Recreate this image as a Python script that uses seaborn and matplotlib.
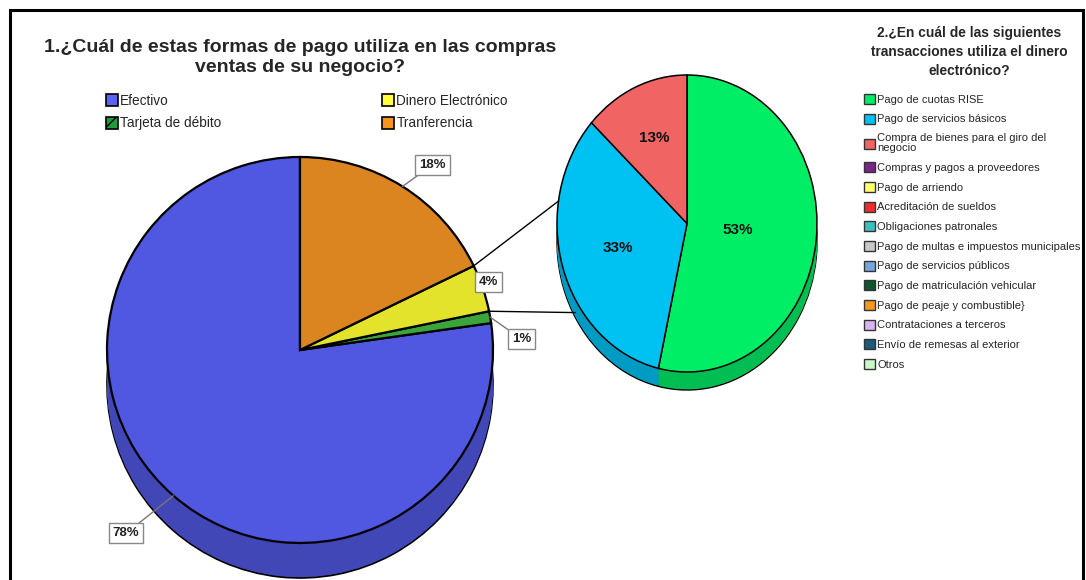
import numpy as np
import matplotlib
matplotlib.use("Agg")
import matplotlib.pyplot as plt
import seaborn as sns
from matplotlib.patches import Patch, Rectangle, ConnectionPatch
from matplotlib.colors import to_rgb

sns.set_theme(style="white")
plt.rcParams['font.family'] = ['Liberation Sans', 'DejaVu Sans']

# ---------------- data ----------------
pay_labels = ["Efectivo", "Tarjeta de débito", "Dinero Electrónico", "Tranferencia"]
pay_values = [78, 1, 4, 18]
pay_colors = ["#5057E0", "#3AA53A", "#E3E32B", "#DB8520"]
pay_legend_colors = ["#5A63F0", "#1E9E3A", "#FFFF40", "#F5951E"]

tx_labels = ["Pago de cuotas RISE", "Pago de servicios básicos",
             "Compra de bienes para el giro del\nnegocio", "Compras y pagos a proveedores",
             "Pago de arriendo", "Acreditación de sueldos", "Obligaciones patronales",
             "Pago de multas e impuestos municipales", "Pago de servicios públicos",
             "Pago de matriculación vehicular", "Pago de peaje y combustible}",
             "Contrataciones a terceros", "Envío de remesas al exterior", "Otros"]
tx_colors = ["#00EE66", "#00C2F2", "#F06464", "#7B2585", "#FFFF70", "#EE2E2E", "#3DBFC0",
             "#C8C8C8", "#76A6DC", "#0E5630", "#F39A1E", "#D8B4F0", "#1A5A7A", "#C8F8C8"]
tx_values = [53, 33, 13]          # only the first three categories are non-zero

title1 = "1.¿Cuál de estas formas de pago utiliza en las compras\nventas de su negocio?"
title2 = "2.¿En cuál de las siguientes\ntransacciones utiliza el dinero\nelectrónico?"

W, H = 1086, 580
fig = plt.figure(figsize=(W / 100, H / 100), dpi=100)
fig.patch.set_facecolor("white")


def darken(c, f=0.82):
    r, g, b = to_rgb(c)
    return (r * f, g * f, b * f)


# ---------------- left pie (pixel-unit axes) ----------------
axL = fig.add_axes([0, 0, 1, 1])
cxL, cyL, rL, depthL = 300, H - 350, 193, 35
nlay = 30
for k in range(nlay, 0, -1):
    off = depthL * k / nlay
    axL.pie(pay_values, center=(cxL, cyL - off), radius=rL, startangle=90, counterclock=True,
            colors=[darken(c) for c in pay_colors],
            wedgeprops=dict(linewidth=1.2 if k == nlay else 0, edgecolor="black"),
            frame=False)
wedgesL, _ = axL.pie(pay_values, center=(cxL, cyL), radius=rL, startangle=90, counterclock=True,
                     colors=pay_colors, wedgeprops=dict(linewidth=1.6, edgecolor="black"),
                     frame=False)
axL.set_aspect("auto")
axL.set_xlim(0, W)
axL.set_ylim(0, H)
axL.axis("off")

# labels for left pie (order: Efectivo, Tarjeta, Dinero, Tranferencia)
lab_dist = [1.31, 1.15, 1.04, 1.18]
lab_shift = [-2.5, -7, 1.1, -3.5]
lab_leader = [True, True, False, True]
for w, v, dist, sh, ld in zip(wedgesL, pay_values, lab_dist, lab_shift, lab_leader):
    mid = np.deg2rad((w.theta1 + w.theta2) / 2)
    ang_l = mid + np.deg2rad(sh)
    p_arc = (cxL + rL * np.cos(mid), cyL + rL * np.sin(mid))
    p_lab = (cxL + rL * dist * np.cos(ang_l), cyL + rL * dist * np.sin(ang_l))
    axL.annotate(f"{v}%", xy=p_arc, xytext=p_lab, ha="center", va="center",
                 fontsize=9.5, fontweight="bold", color="#222222",
                 bbox=dict(boxstyle="square,pad=0.3", fc="white", ec="#888888", lw=1),
                 arrowprops=(dict(arrowstyle="-", color="#777777", lw=1, shrinkA=0, shrinkB=0)
                             if ld else None))

# ---------------- right pie (elliptical) ----------------
cxR, cyR, rxR, ryR, depthR = 687, 223.5, 130, 148.5, 18
x0, x1, y0, y1 = 540, 834, 60, 410
axR = fig.add_axes([x0 / W, (H - y1) / H, (x1 - x0) / W, (y1 - y0) / H])
dR = depthR / ryR
for k in range(20, 0, -1):
    off = dR * k / 20
    axR.pie(tx_values, center=(0, -off), radius=1, startangle=90, counterclock=False,
            colors=[darken(c, 0.8) for c in tx_colors[:3]],
            wedgeprops=dict(linewidth=1 if k == 20 else 0, edgecolor="black"), frame=False)
wedgesR, _ = axR.pie(tx_values, radius=1, startangle=90, counterclock=False,
                     colors=tx_colors[:3], wedgeprops=dict(linewidth=1.1, edgecolor="black"),
                     frame=False)
axR.set_aspect("auto")
axR.set_xlim((x0 - cxR) / rxR, (x1 - cxR) / rxR)
axR.set_ylim((cyR - y1) / ryR, (cyR - y0) / ryR)
axR.axis("off")
in_dist = [0.39, 0.56, 0.63]
for w, v, d in zip(wedgesR, tx_values, in_dist):
    mid = np.deg2rad((w.theta1 + w.theta2) / 2)
    axR.text(d * np.cos(mid), d * np.sin(mid), f"{v}%", ha="center", va="center",
             fontsize=11, fontweight="bold", color="#111111")

# ---------------- connector lines ----------------
wy = wedgesL[2]
for th, ptR in [(wy.theta2, (-0.99, 0.15)), (wy.theta1, (-0.86, -0.6))]:
    t = np.deg2rad(th)
    pA = (cxL + rL * np.cos(t), cyL + rL * np.sin(t))
    con = ConnectionPatch(xyA=pA, coordsA=axL.transData, xyB=ptR, coordsB=axR.transData,
                          color="black", lw=1)
    fig.add_artist(con)

# ---------------- titles ----------------
fig.text(300 / W, 1 - 57.5 / H, title1, ha="center", va="center", fontsize=14,
         fontweight="bold", linespacing=1.25)
fig.text(969 / W, 1 - 52 / H, title2, ha="center", va="center", fontsize=9.9,
         fontweight="bold", linespacing=1.42)

# ---------------- legends ----------------
h1 = []
for lab, c in zip(pay_labels, pay_legend_colors):
    if lab == "Tarjeta de débito":
        h1.append(Patch(facecolor=c, edgecolor="black", hatch="//", lw=1.2, label=lab))
    else:
        h1.append(Patch(facecolor=c, edgecolor="black", lw=1.2, label=lab))
leg1 = fig.legend(handles=h1, ncol=2, loc="upper left", bbox_to_anchor=(106 / W, 1 - 94 / H),
                  frameon=False, fontsize=9.8, handlelength=0.85, handleheight=1.0,
                  handletextpad=0.2, columnspacing=11.8, labelspacing=0.62, borderpad=0,
                  borderaxespad=0)

h2 = [Patch(facecolor=c, edgecolor="#333333", lw=1, label=l) for l, c in zip(tx_labels, tx_colors)]
leg2 = fig.legend(handles=h2, loc="upper left", bbox_to_anchor=(864 / W, 1 - 94 / H),
                  frameon=False, fontsize=8.0, handlelength=0.95, handleheight=1.0,
                  handletextpad=0.25, labelspacing=0.8, borderpad=0, borderaxespad=0)
for t in leg2.get_texts():
    t.set_linespacing(1.0)

# ---------------- frame ----------------
fig.add_artist(Rectangle((10, -5), W - 13, H - 10 + 5, transform=None, fill=False,
                         ec="black", lw=2.2))

fig.savefig("out.png", dpi=100, facecolor="white")
